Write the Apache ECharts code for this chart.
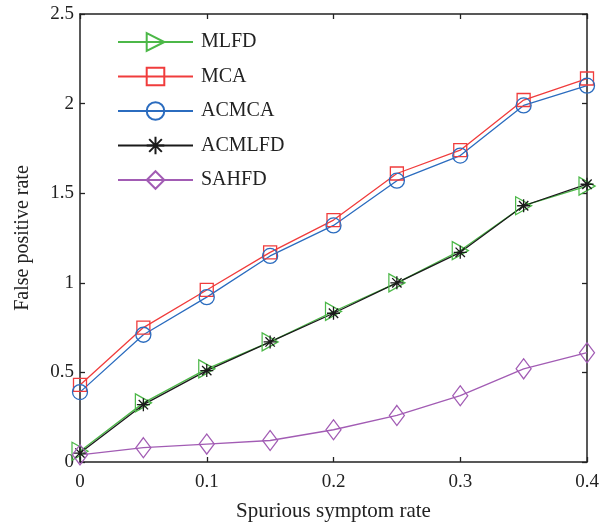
<!DOCTYPE html>
<html><head><meta charset="utf-8">
<script src="https://cdn.jsdelivr.net/npm/echarts@6/dist/echarts.min.js"></script>
<style>html,body{margin:0;padding:0;background:#fff}#c{width:609px;height:527px}</style>
</head><body><div id="c"></div>
<script>
const xs = [0, 0.05, 0.1, 0.15, 0.2, 0.25, 0.3, 0.35, 0.4];
const MLFD = [0.06, 0.33, 0.52, 0.67, 0.84, 1.0, 1.18, 1.43, 1.54];
const MCA = [0.43, 0.75, 0.96, 1.17, 1.35, 1.61, 1.74, 2.02, 2.14];
const ACMCA = [0.39, 0.71, 0.92, 1.15, 1.32, 1.57, 1.71, 1.99, 2.10];
const ACMLFD = [0.05, 0.32, 0.51, 0.67, 0.83, 1.0, 1.17, 1.43, 1.55];
const SAHFD = [0.04, 0.08, 0.10, 0.12, 0.18, 0.26, 0.37, 0.52, 0.61];
const xTicks = [0, 0.1, 0.2, 0.3, 0.4];
const yTicks = [0, 0.5, 1, 1.5, 2, 2.5];

const font = '"Liberation Serif", "DejaVu Serif", serif';
const star = 'path://M0,-1L0,1M-1,0L1,0M-0.72,-0.72L0.72,0.72M-0.72,0.72L0.72,-0.72';
function pairs(v){ return xs.map((x,i)=>[x,v[i]]); }
function ser(name, vals, color, symbol, size, rot){
  return {
    name, type:'line', data:pairs(vals), symbol, symbolSize:size, symbolRotate:rot||0,
    lineStyle:{color, width:1.3},
    itemStyle:{color:'rgba(0,0,0,0)', borderColor:color, borderWidth:1.3},
    emphasis:{disabled:true}, animation:false
  };
}
const chart = echarts.init(document.getElementById('c'));
function axisCommon(){ return {
  axisLine:{show:true, onZero:false, lineStyle:{color:'#222', width:1.5}},
  axisTick:{show:true, inside:true, length:5, lineStyle:{color:'#222', width:1.3}},
  splitLine:{show:false}
};}
chart.setOption({
  animation:false,
  grid:{left:80, right:22, top:14, bottom:64},
  legend:{
    orient:'vertical', left:117, top:32, padding:0, itemWidth:75, itemHeight:22, itemGap:14.5,
    textStyle:{fontFamily:font, fontSize:20, color:'#222', padding:[0,0,0,3]},
    data:['MLFD','MCA','ACMCA','ACMLFD','SAHFD']
  },
  xAxis:[
    Object.assign({type:'value', min:0, max:0.4, interval:0.1,
      name:'Spurious symptom rate', nameLocation:'middle', nameGap:39,
      nameTextStyle:{fontFamily:font, fontSize:21, color:'#222'},
      axisLabel:{fontFamily:font, fontSize:19, color:'#222', margin:11,
        formatter:v=>xTicks.includes(+v.toFixed(2))?String(+v.toFixed(2)):''}}, axisCommon()),
    Object.assign({type:'value', min:0, max:0.4, interval:0.1, position:'top', axisLabel:{show:false}}, axisCommon())
  ],
  yAxis:[
    Object.assign({type:'value', min:0, max:2.5, interval:0.5,
      name:'False positive rate', nameLocation:'middle', nameGap:47,
      nameTextStyle:{fontFamily:font, fontSize:20, color:'#222'},
      axisLabel:{fontFamily:font, fontSize:19, color:'#222', margin:6,
        formatter:v=>yTicks.includes(+v.toFixed(2))?String(+v.toFixed(2)):''}}, axisCommon()),
    Object.assign({type:'value', min:0, max:2.5, interval:0.5, position:'right', axisLabel:{show:false}}, axisCommon())
  ],
  series:[
    ser('MLFD', MLFD, '#4cb848', 'triangle', [18,16], -90),
    ser('MCA', MCA, '#f03c3c', 'rect', 13),
    ser('ACMCA', ACMCA, '#2b6cbf', 'circle', 15),
    ser('ACMLFD', ACMLFD, '#1a1a1a', star, 13),
    ser('SAHFD', SAHFD, '#a25cb4', 'diamond', [15,20])
  ]
});
</script></body></html>
